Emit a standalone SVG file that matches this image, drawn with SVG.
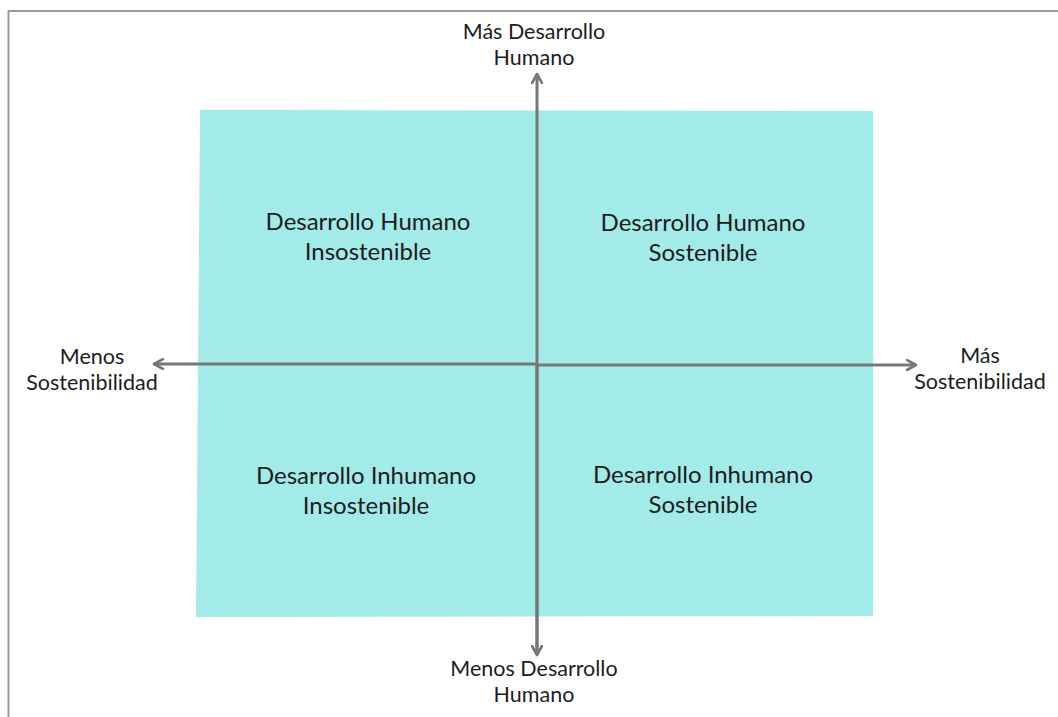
<svg xmlns="http://www.w3.org/2000/svg" width="1058" height="717" viewBox="0 0 1058 717">
<style>
.lbl{font-family:Lato,"Open Sans","Liberation Sans",sans-serif;fill:#1c1c1c;text-anchor:middle}
.ax{font-size:21.5px}
.q{font-size:24px}
.axis{stroke:#777;stroke-width:3;fill:none}
</style>
<defs>
<marker id="ah" viewBox="0 0 12 12" refX="10" refY="6" markerWidth="12" markerHeight="12" markerUnits="userSpaceOnUse" orient="auto">
<path d="M1,1 L10,6 L1,11" fill="none" stroke="#777" stroke-width="2.6" stroke-linecap="round" stroke-linejoin="round"/>
</marker>
</defs>
<rect x="0" y="0" width="1058" height="717" fill="#fff"/>
<rect x="8.5" y="11" width="1060" height="720" fill="none" stroke="#999" stroke-width="2"/>
<g id="quadrants">
<polygon points="200,110 873,111 873,616 196,617" fill="#A2EBE8"/>
</g>
<g id="connectors">
<line class="axis" x1="537" y1="655" x2="537" y2="74" marker-end="url(#ah)"/>
<line class="axis" x1="537" y1="365" x2="537" y2="655" marker-end="url(#ah)"/>
<line class="axis" x1="537" y1="364" x2="154" y2="364" marker-end="url(#ah)"/>
<line class="axis" x1="537" y1="365" x2="916" y2="365" marker-end="url(#ah)"/>
</g>
<g id="top-label"><text class="lbl ax" x="534" y="39">Más Desarrollo</text><text class="lbl ax" x="534" y="65">Humano</text></g>
<g id="bottom-label"><text class="lbl ax" x="534" y="676">Menos Desarrollo</text><text class="lbl ax" x="534" y="702">Humano</text></g>
<g id="left-label"><text class="lbl ax" x="92" y="364">Menos</text><text class="lbl ax" x="92" y="390">Sostenibilidad</text></g>
<g id="right-label"><text class="lbl ax" x="980" y="363">Más</text><text class="lbl ax" x="980" y="389">Sostenibilidad</text></g>
<g id="q-tl"><text class="lbl q" x="368" y="230">Desarrollo Humano</text><text class="lbl q" x="368" y="260">Insostenible</text></g>
<g id="q-tr"><text class="lbl q" x="703" y="231">Desarrollo Humano</text><text class="lbl q" x="703" y="261">Sostenible</text></g>
<g id="q-bl"><text class="lbl q" x="366" y="484">Desarrollo Inhumano</text><text class="lbl q" x="366" y="514">Insostenible</text></g>
<g id="q-br"><text class="lbl q" x="703" y="483">Desarrollo Inhumano</text><text class="lbl q" x="703" y="513">Sostenible</text></g>
</svg>
